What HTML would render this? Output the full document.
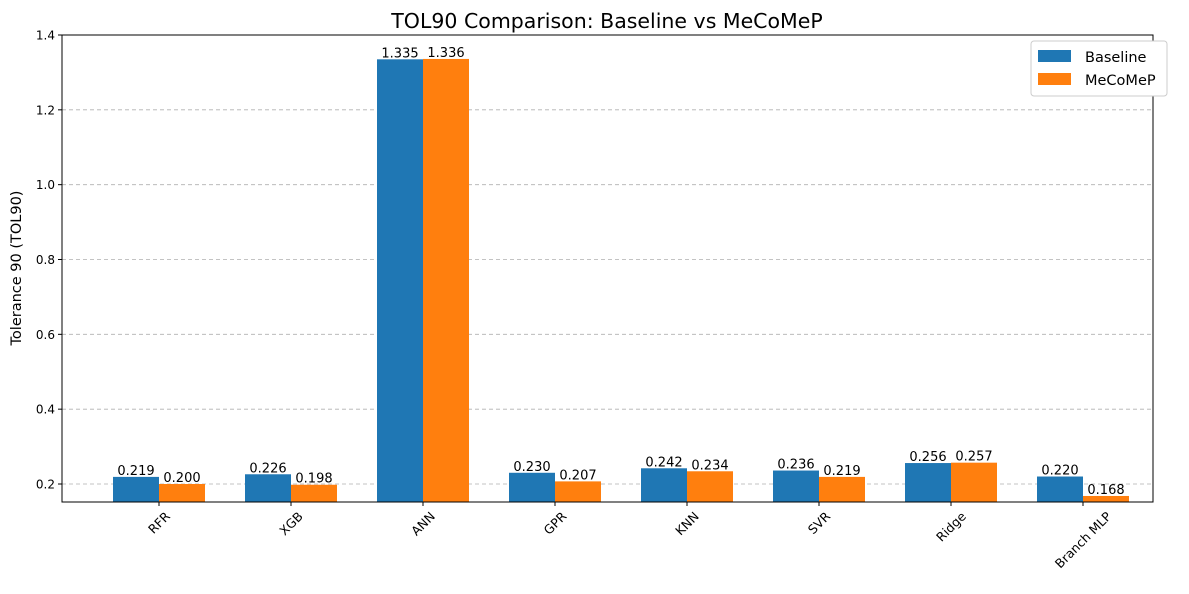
<!DOCTYPE html>
<html><head><meta charset="utf-8"><style>
body{margin:0;background:#fff;}
svg{font-family:"DejaVu Sans","Liberation Sans",sans-serif;}
</style></head><body>
<svg id="chart" width="1189" height="589" xmlns="http://www.w3.org/2000/svg">
<rect width="1189" height="589" fill="#fff"/>
<text x="607" y="28" font-size="20.5" text-anchor="middle">TOL90 Comparison: Baseline vs MeCoMeP</text>
<text transform="translate(21,268) rotate(-90)" font-size="14.5" text-anchor="middle">Tolerance 90 (TOL90)</text>
<g id="grid"></g><g id="bars"></g><g id="vals"></g><g id="yt"></g><g id="xt"></g>
<rect x="62" y="35" width="1091" height="467" fill="none" stroke="#000" stroke-width="1"/>
<g>
<rect x="1031" y="41" width="136" height="55" rx="3" fill="#fff" stroke="#ccc"/>
<rect x="1038" y="50" width="33" height="12" fill="#1f77b4"/>
<text x="1085" y="62" font-size="14.5">Baseline</text>
<rect x="1038" y="73" width="33" height="12" fill="#ff7f0e"/>
<text x="1085" y="85" font-size="14.5">MeCoMeP</text>
</g>
</svg>
<script>
const categories=["RFR","XGB","ANN","GPR","KNN","SVR","Ridge","Branch MLP"];
const baseline=[0.219,0.226,1.335,0.230,0.242,0.236,0.256,0.220];
const mecomep=[0.200,0.198,1.336,0.207,0.234,0.219,0.257,0.168];
const yTicks=[0.2,0.4,0.6,0.8,1.0,1.2,1.4];
const NS="http://www.w3.org/2000/svg";
const y=v=>484-(v-0.2)*374.17;
const x=i=>159+i*132;
const bw=46, yBottom=502;
function mk(tag,attrs,parent){const e=document.createElementNS(NS,tag);for(const k in attrs)e.setAttribute(k,attrs[k]);document.getElementById(parent).appendChild(e);return e;}
yTicks.forEach(t=>{
  if(t<1.39){const g=mk('line',{x1:62,x2:1153,y1:y(t),y2:y(t),stroke:'#b0b0b0','stroke-dasharray':'4,3','stroke-width':0.8},'grid');
  
  }
  const tk=mk('line',{x1:58,x2:62,y1:y(t),y2:y(t),stroke:'#000'},'yt');
  
  
  const l=mk('text',{x:55,y:y(t)+4.5,'font-size':12,'text-anchor':'end'},'yt');l.textContent=t.toFixed(1);
  
  
});
categories.forEach((c,i)=>{
  [[baseline,'#1f77b4',-bw],[mecomep,'#ff7f0e',0]].forEach(([arr,col,off],s)=>{
    const v=arr[i];
    const r=mk('rect',{x:x(i)+off,y:y(v),width:bw,height:yBottom-y(v),fill:col},'bars');
    
    
    const t=mk('text',{x:x(i)+off+bw/2,y:y(v)-2,'font-size':13,'text-anchor':'middle'},'vals');t.textContent=v.toFixed(3);
    
    
  });
  const tk=mk('line',{x1:x(i),x2:x(i),y1:502,y2:506,stroke:'#000'},'xt');
  
  
  const l=mk('text',{'font-size':12.5,'text-anchor':'middle','dominant-baseline':'central'},'xt');l.textContent=c;
  
  
  const w=l.getComputedTextLength();
  const cy=509+(w+14)*0.7071/2;
  l.setAttribute('transform','translate('+x(i)+','+cy+') rotate(-45)');
});
</script>
</body></html>
